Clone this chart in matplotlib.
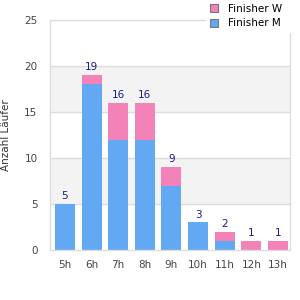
import matplotlib.pyplot as plt
import numpy as np

hours = ["5h", "6h", "7h", "8h", "9h", "10h", "11h", "12h", "13h"]
finisher_m = [5, 18, 12, 12, 7, 3, 1, 0, 0]
finisher_w = [0, 1, 4, 4, 2, 0, 1, 1, 1]

blue = "#62a8f2"
pink = "#f282b8"

fig = plt.figure(figsize=(3, 3), dpi=100)
ax = fig.add_axes([50/300, 50/300, 240/300, 230/300])

x = np.arange(len(hours))
m = np.array(finisher_m)
w = np.array(finisher_w)
total = m + w

# alternating bands
for lo in [5, 15]:
    ax.axhspan(lo, lo + 5, color="#f3f3f3", zorder=0, lw=0)
for g in [5, 10, 15, 20]:
    ax.axhline(g, color="#dddddd", lw=1, zorder=1)
# top line stops where the legend sits
ax.axhline(25, xmax=0.645, color="#dddddd", lw=1, zorder=1, clip_on=False)

ax.bar(x, m, width=0.75, color=blue, label="Finisher M", zorder=2)
ax.bar(x, w, width=0.75, bottom=m, color=pink, label="Finisher W", zorder=2)

for xi, t in zip(x, total):
    ax.annotate(str(t), (xi, t), xytext=(0, 2), textcoords="offset points",
                ha="center", va="bottom", fontsize=7.5, color="#1a1a8a")

ax.set_xlim(-0.56, 8.45)
ax.set_ylim(0, 25)
ax.set_yticks([0, 5, 10, 15, 20, 25])
ax.set_xticks(x)
ax.set_xticklabels(hours)
ax.tick_params(length=0, labelsize=7.5, labelcolor="#444444")
ax.tick_params(axis="x", pad=7)
ax.tick_params(axis="y", pad=9)

ax.spines["top"].set_visible(False)
for s in ["left", "bottom", "right"]:
    ax.spines[s].set_color("#dddddd")
    ax.spines[s].set_linewidth(1)
ax.spines["right"].set_bounds(0, 23.6)

ax.set_ylabel("Anzahl Läufer", fontsize=7.5, color="#333333")
ax.yaxis.set_label_coords(-0.162, 0.5)

handles, labels = ax.get_legend_handles_labels()
leg = fig.legend(handles[::-1], labels[::-1], loc="upper left",
                 bbox_to_anchor=(206/300, 1.0), borderaxespad=0,
                 fontsize=7.5, frameon=False,
                 handlelength=0.8, handleheight=0.8, handletextpad=1.0,
                 labelspacing=0.45, borderpad=0.35)
for h in leg.legend_handles:
    h.set_edgecolor("#777777")
    h.set_linewidth(0.8)

fig.savefig("out.png", dpi=100)
